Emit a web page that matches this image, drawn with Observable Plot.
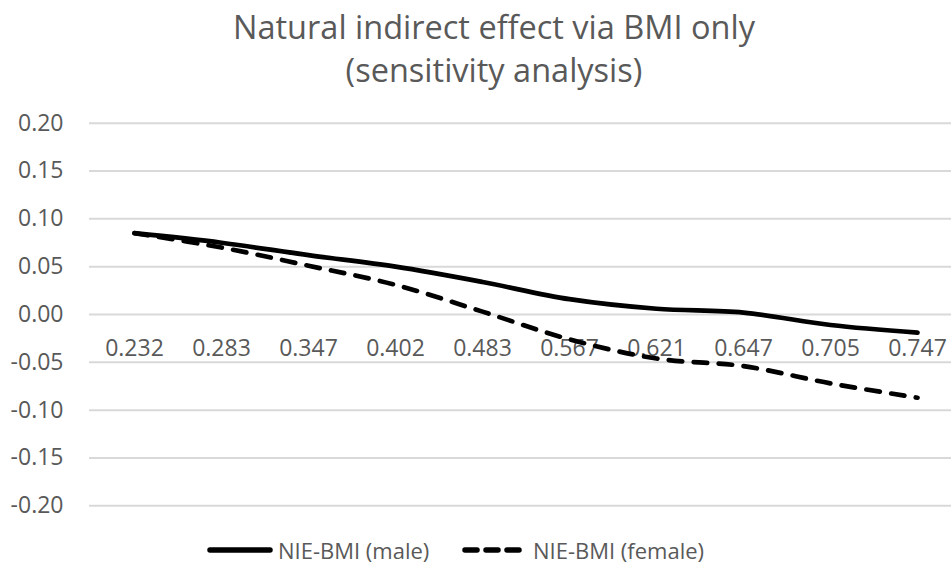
<!DOCTYPE html>
<html>
<head>
<meta charset="utf-8">
<script src="https://cdn.jsdelivr.net/npm/d3@7"></script>
<script src="https://cdn.jsdelivr.net/npm/@observablehq/plot@0.6"></script>
<style>
  html, body { margin: 0; padding: 0; background: #fff; }
  #wrap { position: relative; width: 951px; height: 575px; overflow: hidden; font-family: "Open Sans", sans-serif; color: #595959; }
  #title { position: absolute; left: 0; top: 0; width: 951px; box-sizing: border-box; padding-left: 37px; padding-top: 5px; height: 100px; text-align: center; font-size: 32.5px; line-height: 43px; }
  #chart { position: absolute; left: 0; top: 100px; }
  #legend { position: absolute; top: 530px; left: 0; height: 40px; width: 951px; font-size: 22px; line-height: 40px; }
  .item { position: absolute; top: 0; display: flex; align-items: center; height: 40px; }
  .item svg { margin-right: 4px; }
</style>
</head>
<body>
<div id="wrap">
  <div id="title">Natural indirect effect via BMI only<br>(sensitivity analysis)</div>
  <div id="chart"></div>
  <div id="legend"></div>
</div>
<script>
const categories = ["0.232", "0.283", "0.347", "0.402", "0.483", "0.567", "0.621", "0.647", "0.705", "0.747"];
const maleValues = [0.085, 0.075, 0.062, 0.050, 0.034, 0.016, 0.006, 0.002, -0.011, -0.019];
const femaleValues = [0.085, 0.070, 0.051, 0.031, 0.003, -0.026, -0.046, -0.054, -0.072, -0.087];
const yTicks = [-0.20, -0.15, -0.10, -0.05, 0.00, 0.05, 0.10, 0.15, 0.20];
const seriesNames = ["NIE-BMI (male)", "NIE-BMI (female)"];

const maleData = categories.map((c, i) => ({cat: c, value: maleValues[i]}));
const femaleData = categories.map((c, i) => ({cat: c, value: femaleValues[i]}));

const dash = "13.5,11.5";

const chart = Plot.plot({
  width: 951,
  height: 430,
  marginLeft: 89,
  marginRight: 0,
  marginTop: 22.7,
  marginBottom: 24.7,
  style: {fontFamily: "Open Sans, sans-serif", fontSize: "23px", color: "#595959", background: "white"},
  x: {type: "point", domain: categories, range: [132, 918], padding: 0, axis: null},
  y: {domain: [-0.2, 0.2], axis: null},
  marks: [
    Plot.ruleY(yTicks, {stroke: "#d9d9d9", strokeWidth: 2, strokeOpacity: 1}),
    Plot.axisY(yTicks, {tickSize: 0, tickPadding: 26, tickFormat: d => d.toFixed(2), label: null, fill: "#595959", fontSize: 23}),
    Plot.text(categories, {x: d => d, y: () => 0, dy: 34.5, fill: "#595959", fontSize: 23}),
    Plot.line(maleData, {x: "cat", y: "value", stroke: "black", strokeWidth: 4.7, curve: "catmull-rom", strokeLinecap: "round", strokeLinejoin: "round"}),
    Plot.line(femaleData, {x: "cat", y: "value", stroke: "black", strokeWidth: 4.7, curve: "catmull-rom", strokeDasharray: dash, strokeLinecap: "round", strokeLinejoin: "round"})
  ]
});
document.getElementById("chart").appendChild(chart);

const legend = document.getElementById("legend");
const items = [
  {name: seriesNames[0], left: 206, dash: null},
  {name: seriesNames[1], left: 461, dash: "12,9"}
];
for (const it of items) {
  const div = document.createElement("div");
  div.className = "item";
  div.style.left = it.left + "px";
  const svg = d3.create("svg").attr("width", 68).attr("height", 12);
  svg.append("line").attr("x1", 4).attr("x2", 64).attr("y1", 6).attr("y2", 6)
    .attr("stroke", "black").attr("stroke-width", 5.5).attr("stroke-linecap", "round")
    .attr("stroke-dasharray", it.dash);
  div.appendChild(svg.node());
  const span = document.createElement("span");
  span.textContent = it.name;
  div.appendChild(span);
  legend.appendChild(div);
}
</script>
</body>
</html>
